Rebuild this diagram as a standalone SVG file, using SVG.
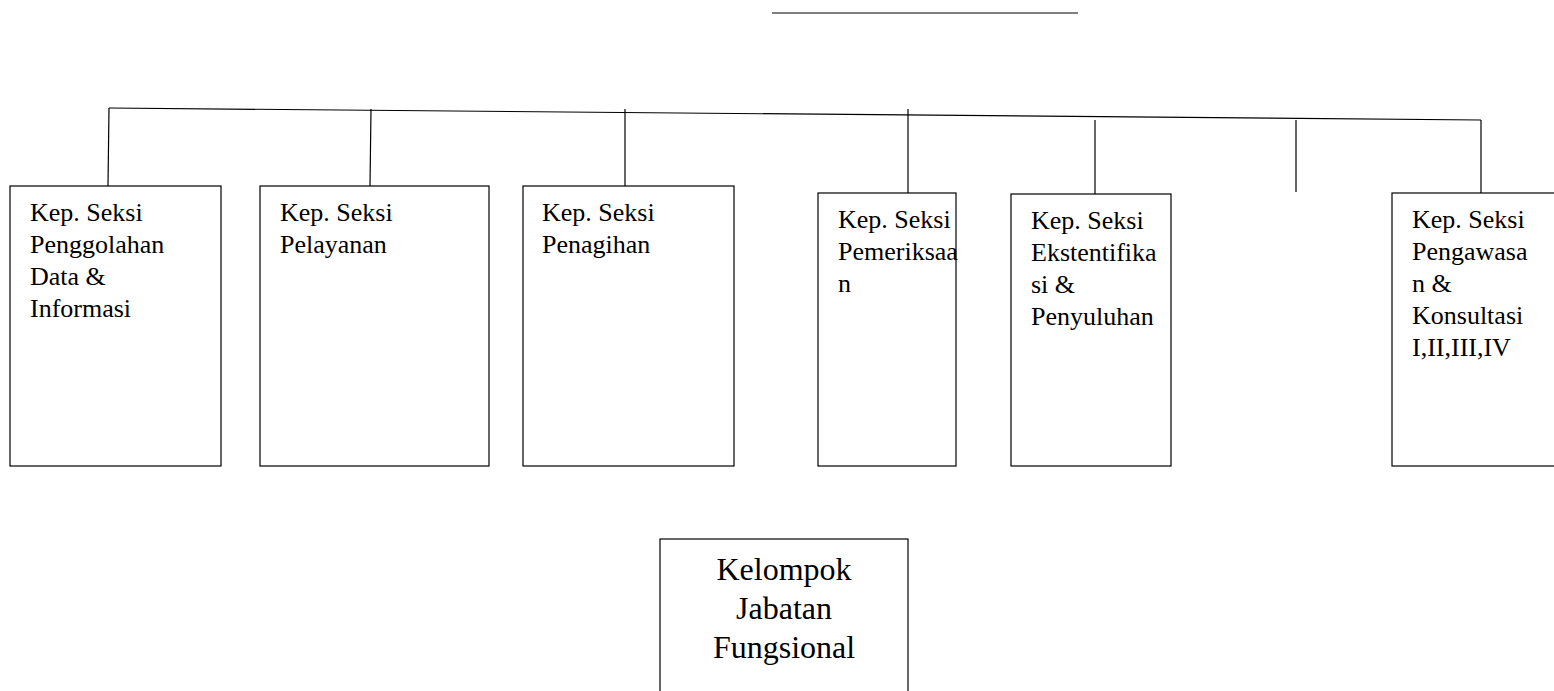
<svg xmlns="http://www.w3.org/2000/svg" width="1554" height="691" viewBox="0 0 1554 691">
<style>
.box{fill:#fff;stroke:#000;stroke-width:1.2}
.ln{stroke:#000;stroke-width:1.2;fill:none}
.t{font-family:"Liberation Serif",serif;font-size:26px;fill:#000}
.tb{font-family:"Liberation Serif",serif;font-size:32px;fill:#000;text-anchor:middle}
</style>
<rect width="1554" height="691" fill="#fff"/>
<g id="connectors">
<line class="ln" x1="772" y1="13" x2="1078" y2="13"/>
<line class="ln" x1="109" y1="108" x2="1481" y2="120"/>
<line class="ln" x1="109" y1="108" x2="108" y2="186"/>
<line class="ln" x1="371" y1="109" x2="370" y2="186"/>
<line class="ln" x1="625" y1="109" x2="625" y2="186"/>
<line class="ln" x1="908" y1="109" x2="908" y2="193"/>
<line class="ln" x1="1095" y1="120" x2="1095" y2="194"/>
<line class="ln" x1="1296" y1="120" x2="1296" y2="192"/>
<line class="ln" x1="1481" y1="120" x2="1481" y2="193"/>
</g>
<g id="n1">
<rect class="box" x="10" y="186" width="211" height="280"/>
<text class="t" x="30" y="221">Kep. Seksi</text>
<text class="t" x="30" y="253">Penggolahan</text>
<text class="t" x="30" y="285">Data &amp;</text>
<text class="t" x="30" y="317">Informasi</text>
</g>
<g id="n2">
<rect class="box" x="260" y="186" width="229" height="280"/>
<text class="t" x="280" y="221">Kep. Seksi</text>
<text class="t" x="280" y="253">Pelayanan</text>
</g>
<g id="n3">
<rect class="box" x="523" y="186" width="211" height="280"/>
<text class="t" x="542" y="221">Kep. Seksi</text>
<text class="t" x="542" y="253">Penagihan</text>
</g>
<g id="n4">
<rect class="box" x="818" y="193" width="138" height="273"/>
<text class="t" x="838" y="228">Kep. Seksi</text>
<text class="t" x="838" y="260">Pemeriksaa</text>
<text class="t" x="838" y="292">n</text>
</g>
<g id="n5">
<rect class="box" x="1011" y="194" width="160" height="272"/>
<text class="t" x="1031" y="229">Kep. Seksi</text>
<text class="t" x="1031" y="261">Ekstentifika</text>
<text class="t" x="1031" y="293">si &amp;</text>
<text class="t" x="1031" y="325">Penyuluhan</text>
</g>
<g id="n6">
<rect class="box" x="1392" y="193" width="170" height="273"/>
<text class="t" x="1412" y="228">Kep. Seksi</text>
<text class="t" x="1412" y="260">Pengawasa</text>
<text class="t" x="1412" y="292">n &amp;</text>
<text class="t" x="1412" y="324">Konsultasi</text>
<text class="t" x="1412" y="356">I,II,III,IV</text>
</g>
<g id="n7">
<rect class="box" x="660" y="539" width="248" height="160"/>
<text class="tb" x="784" y="580">Kelompok</text>
<text class="tb" x="784" y="619">Jabatan</text>
<text class="tb" x="784" y="658">Fungsional</text>
</g>
</svg>
